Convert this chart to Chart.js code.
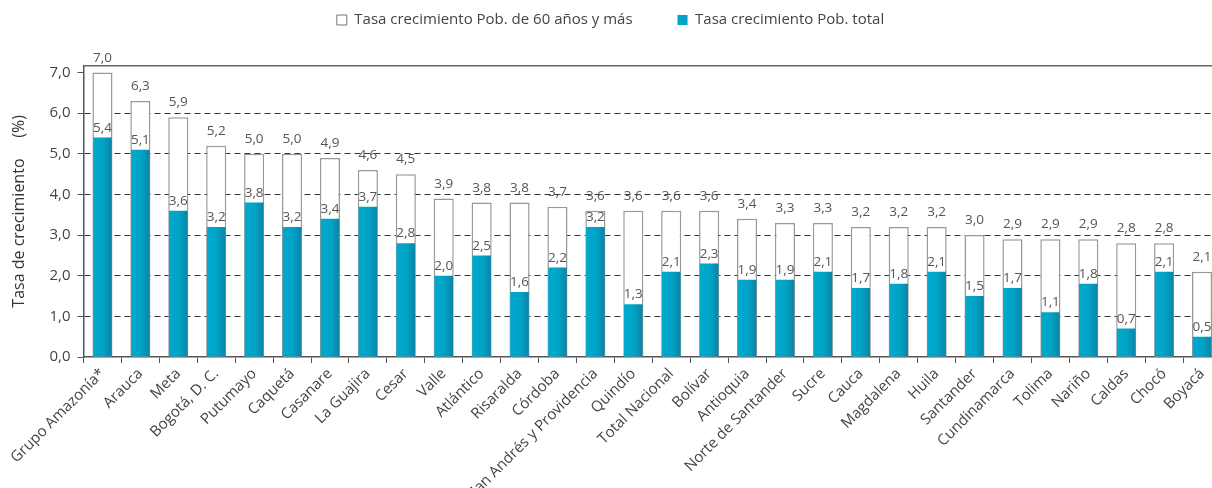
<!DOCTYPE html>
<html lang="es">
<head>
  <meta charset="UTF-8" />
  <title>Tasa de crecimiento por departamento</title>
  <script src="https://cdn.jsdelivr.net/npm/chart.js"></script>
  <style>
    html, body { margin: 0; padding: 0; background: #fff; overflow: hidden; }
    .wrap { position: relative; width: 1221px; height: 488px; }
  </style>
</head>
<body>
  <div class="wrap"><canvas id="chart"></canvas></div>

  <script>
    const departamentos = [
      'Grupo Amazonía*', 'Arauca', 'Meta', 'Bogotá, D. C.', 'Putumayo', 'Caquetá',
      'Casanare', 'La Guajira', 'Cesar', 'Valle', 'Atlántico', 'Risaralda', 'Córdoba',
      'San Andrés y Providencia', 'Quindío', 'Total Nacional', 'Bolívar', 'Antioquia',
      'Norte de Santander', 'Sucre', 'Cauca', 'Magdalena', 'Huila', 'Santander',
      'Cundinamarca', 'Tolima', 'Nariño', 'Caldas', 'Chocó', 'Boyacá'
    ];
    // tasa de crecimiento pob. de 60 años y más (%)
    const tasa60 = [7.0, 6.3, 5.9, 5.2, 5.0, 5.0, 4.9, 4.6, 4.5, 3.9, 3.8, 3.8, 3.7,
                    3.6, 3.6, 3.6, 3.6, 3.4, 3.3, 3.3, 3.2, 3.2, 3.2, 3.0, 2.9, 2.9,
                    2.9, 2.8, 2.8, 2.1];
    // tasa de crecimiento pob. total (%)
    const tasaTotal = [5.4, 5.1, 3.6, 3.2, 3.8, 3.2, 3.4, 3.7, 2.8, 2.0, 2.5, 1.6, 2.2,
                       3.2, 1.3, 2.1, 2.3, 1.9, 1.9, 2.1, 1.7, 1.8, 2.1, 1.5, 1.7, 1.1,
                       1.8, 0.7, 2.1, 0.5];
    const yMin = 0, yMax = 7.17, yPaso = 1;

    const fuente = '"Open Sans", "DejaVu Sans", sans-serif';
    const gris = '#444';
    const fmt = v => v.toFixed(1).replace('.', ',');

    function degradado(c) {
      const chart = c.chart;
      const sx = chart.scales.x;
      if (!chart.chartArea || !sx || c.dataIndex === undefined) return '#00a3c6';
      const x = sx.getPixelForValue(c.dataIndex);
      const half = sx.width / departamentos.length * 0.49 / 2;
      const g = chart.ctx.createLinearGradient(x - half, 0, x + half, 0);
      g.addColorStop(0, '#00aacd');
      g.addColorStop(0.55, '#00a3c6');
      g.addColorStop(1, '#0b84a6');
      return g;
    }

    // valores encima de cada barra
    const etiquetas = {
      id: 'etiquetas',
      afterDatasetsDraw(chart) {
        const ctx = chart.ctx;
        ctx.save();
        ctx.font = '13.5px ' + fuente;
        ctx.fillStyle = '#555';
        ctx.textAlign = 'center';
        ctx.textBaseline = 'bottom';
        chart.data.datasets.forEach((ds, i) => {
          const gap = i === 0 ? 8 : 3;
          chart.getDatasetMeta(i).data.forEach((bar, j) => {
            ctx.fillText(fmt(ds.data[j]), bar.x, bar.y - gap);
          });
        });
        ctx.restore();
      }
    };

    // linea superior del area de trazado
    const marco = {
      id: 'marco',
      afterDraw(chart) {
        const { ctx, chartArea: a } = chart;
        ctx.save();
        ctx.strokeStyle = '#666';
        ctx.lineWidth = 1.5;
        ctx.beginPath();
        ctx.moveTo(a.left, a.top);
        ctx.lineTo(a.right, a.top);
        ctx.stroke();
        ctx.restore();
      }
    };

    new Chart(document.getElementById('chart'), {
      type: 'bar',
      data: {
        labels: departamentos,
        datasets: [
          {
            label: 'Tasa crecimiento Pob. de 60 años y más',
            data: tasa60,
            backgroundColor: '#fff',
            borderColor: '#999',
            borderWidth: 1.5,
            barPercentage: 0.53,
            categoryPercentage: 1,
            grouped: false,
            order: 2
          },
          {
            label: 'Tasa crecimiento Pob. total',
            data: tasaTotal,
            backgroundColor: degradado,
            borderWidth: 0,
            barPercentage: 0.49,
            categoryPercentage: 1,
            grouped: false,
            order: 1
          }
        ]
      },
      options: {
        responsive: true,
        maintainAspectRatio: false,
        animation: false,
        layout: { padding: { top: -32.5, left: 0, right: 0, bottom: 0 } },
        plugins: {
          tooltip: { enabled: false },
          legend: {
            position: 'top',
            labels: {
              font: { family: fuente, size: 15 },
              color: gris,
              boxWidth: 10,
              boxHeight: 10,
              padding: 45,
              sort: (a, b) => a.datasetIndex - b.datasetIndex,
              generateLabels(chart) {
                const items = Chart.defaults.plugins.legend.labels.generateLabels(chart);
                items.forEach(it => {
                  if (it.datasetIndex === 1) {
                    it.fillStyle = '#00a3c6';
                    it.strokeStyle = '#00a3c6';
                    it.lineWidth = 0;
                  } else {
                    it.fillStyle = '#fff';
                    it.strokeStyle = '#777';
                    it.lineWidth = 1;
                  }
                });
                return items;
              }
            }
          },
          subtitle: {
            display: true,
            text: '',
            weight: 500,
            font: { size: 1 },
            padding: { top: 0, bottom: 27 }
          }
        },
        scales: {
          x: {
            grid: {
              drawOnChartArea: false,
              tickLength: 6,
              tickColor: '#555',
              offset: true
            },
            border: { color: '#555', width: 1.5 },
            ticks: {
              autoSkip: false,
              minRotation: 45,
              maxRotation: 45,
              padding: 2,
              color: gris,
              font: { family: fuente, size: 15 }
            },
            afterFit(scale) { scale.height = 131; }
          },
          y: {
            min: yMin,
            max: yMax,
            bounds: 'data',
            grid: {
              color: c => (c.tick && c.tick.value > 0 && c.tick.value < 7) ? '#333' : 'rgba(0,0,0,0)',
              lineWidth: 1,
              tickLength: 6,
              tickColor: '#555'
            },
            border: { color: '#555', width: 1.5, dash: [6, 4] },
            ticks: {
              stepSize: yPaso,
              includeBounds: false,
              padding: 7,
              color: gris,
              font: { family: fuente, size: 15 },
              callback: v => fmt(v)
            },
            title: {
              display: true,
              text: 'Tasa de crecimiento     (%)',
              color: '#333',
              font: { family: fuente, size: 16 },
              padding: { top: 10, bottom: 0 }
            },
            afterFit(scale) { scale.width = 83.5; }
          }
        }
      },
      plugins: [etiquetas, marco]
    });
  </script>
</body>
</html>
